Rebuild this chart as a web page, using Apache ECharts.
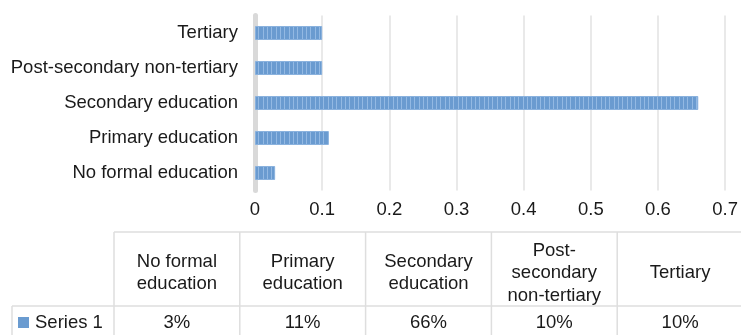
<!DOCTYPE html>
<html>
<head>
<meta charset="utf-8">
<script src="https://cdn.jsdelivr.net/npm/echarts@6/dist/echarts.min.js"></script>
<style>
  html, body { margin: 0; padding: 0; background: #fff; }
  #main { width: 741px; height: 335px; }
</style>
</head>
<body>
<div id="main"></div>
<script>
// data
const categories = ['No formal education', 'Primary education', 'Secondary education', 'Post-secondary non-tertiary', 'Tertiary'];
const tableHeaders = ['No formal\neducation', 'Primary\neducation', 'Secondary\neducation', 'Post-\nsecondary\nnon-tertiary', 'Tertiary'];
const seriesName = 'Series 1';
const seriesValues = [0.03, 0.11, 0.66, 0.10, 0.10];
const xTicks = [0, 0.1, 0.2, 0.3, 0.4, 0.5, 0.6, 0.7];

const FONT = "'Liberation Sans', Arial, Helvetica, sans-serif";
const FS = 18.5;
const TEXT = '#1a1a1a';
const LINE = '#dedede';

// striped fill for bars
function stripes() {
  let c = document.createElement('canvas');
  c.width = 13; c.height = 4;
  let ctx = c.getContext('2d');
  ctx.fillStyle = '#6a9bd0';
  ctx.fillRect(0, 0, 13, 4);
  ctx.fillStyle = '#93b9e3';
  ctx.fillRect(3, 0, 1, 4);
  ctx.fillRect(7, 0, 1, 4);
  ctx.fillRect(11, 0, 1, 4);
  return c;
}

// data table under the chart
const tableTop = 232, rowSplit = 306, tableBottom = 340;
const firstColLeft = 12, firstColRight = 114, colW = 125.8;
let graphics = [];
graphics.push({ type: 'line', shape: { x1: firstColRight, y1: tableTop, x2: 741, y2: tableTop }, style: { stroke: LINE, lineWidth: 1.5 } });
graphics.push({ type: 'line', shape: { x1: firstColLeft, y1: rowSplit, x2: 741, y2: rowSplit }, style: { stroke: LINE, lineWidth: 1.5 } });
graphics.push({ type: 'line', shape: { x1: firstColLeft, y1: rowSplit, x2: firstColLeft, y2: tableBottom }, style: { stroke: LINE, lineWidth: 1.5 } });
for (let i = 0; i < tableHeaders.length; i++) {
  let x = firstColRight + i * colW;
  graphics.push({ type: 'line', shape: { x1: x, y1: tableTop, x2: x, y2: tableBottom }, style: { stroke: LINE, lineWidth: 1.5 } });
  graphics.push({
    type: 'text', x: x + colW / 2, y: 273,
    style: { text: tableHeaders[i], fill: TEXT, font: FS + 'px ' + FONT, align: 'center', verticalAlign: 'middle', lineHeight: 22.5 }
  });
  graphics.push({
    type: 'text', x: x + colW / 2, y: 323,
    style: { text: Math.round(seriesValues[i] * 100) + '%', fill: TEXT, font: FS + 'px ' + FONT, align: 'center', verticalAlign: 'middle' }
  });
}
graphics.push({ type: 'rect', shape: { x: 18, y: 317, width: 11, height: 11 }, style: { fill: '#6a9bd0' } });
graphics.push({
  type: 'text', x: 35, y: 323,
  style: { text: seriesName, fill: TEXT, font: FS + 'px ' + FONT, align: 'left', verticalAlign: 'middle' }
});

let chart = echarts.init(document.getElementById('main'));
const option = {
  animation: false,
  backgroundColor: '#fff',
  grid: { left: 255, right: 11, top: 15.5, bottom: 144.5, containLabel: false },
  xAxis: {
    type: 'value',
    min: xTicks[0],
    max: xTicks[xTicks.length - 1],
    interval: 0.1,
    axisLine: { show: false },
    axisTick: { show: false },
    splitLine: { show: true, lineStyle: { color: '#e2e2e2', width: 1.5 } },
    axisLabel: { color: TEXT, fontSize: FS, fontFamily: FONT, margin: 10, showMaxLabel: true }
  },
  yAxis: {
    type: 'category',
    data: categories,
    axisLine: { show: true, lineStyle: { color: '#d9d9d9', width: 5 } },
    axisTick: { show: false },
    axisLabel: { color: TEXT, fontSize: FS, fontFamily: FONT, margin: 17 }
  },
  series: [{
    name: seriesName,
    type: 'bar',
    data: seriesValues,
    barWidth: 14,
    itemStyle: {
      color: { image: stripes(), repeat: 'repeat' },
      borderColor: '#8ab2de',
      borderWidth: 1
    }
  }],
  graphic: graphics
};
chart.setOption(option);
</script>
</body>
</html>
